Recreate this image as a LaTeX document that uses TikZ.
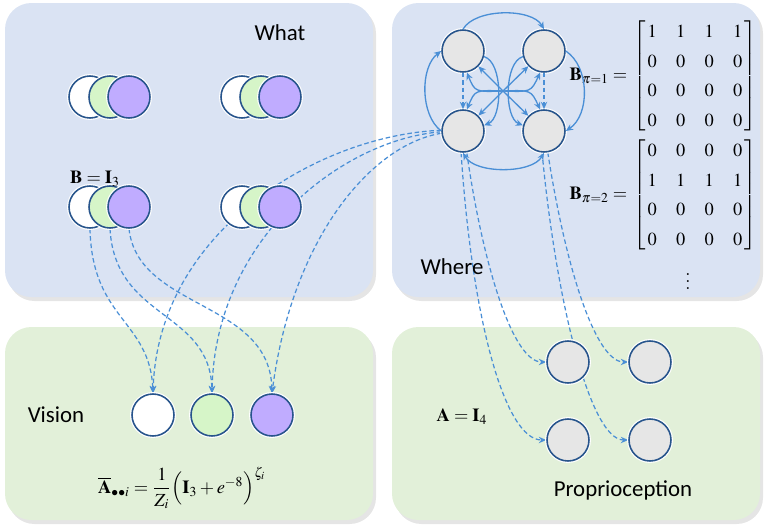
\documentclass[tikz,border=0pt]{standalone}
\usepackage{amsmath}
\usepackage[no-math]{fontspec}
\usepackage{mathptmx}
\renewcommand{\rmdefault}{lmr}
\newfontfamily\calibri{Carlito}
\usetikzlibrary{arrows.meta, positioning}

\definecolor{panelblue}{RGB}{218, 227, 243}
\definecolor{panelgreen}{RGB}{226, 240, 217}
\definecolor{rimblue}{RGB}{40, 85, 140}
\definecolor{linkblue}{RGB}{74, 143, 214}
\definecolor{leafgreen}{RGB}{214, 245, 200}
\definecolor{lilac}{RGB}{192, 172, 255}
\definecolor{stategray}{RGB}{230, 230, 230}

\pgfdeclarelayer{back}
\pgfdeclarelayer{links}
\pgfsetlayers{back,links,main}

\newcommand{\transmat}[1]{\delimiterfactor=860 \delimitershortfall=10pt
  \renewcommand{\arraystretch}{1.36}\setlength{\arraycolsep}{5.5pt}%
  $\left[\begin{array}{@{\,}cccc@{\,}}#1\end{array}\right]$}

\tikzset{
  panelbox/.style={rounded corners=15pt},
  unitc/.style={circle, draw=rimblue, line width=0.9pt, minimum size=0.84cm, inner sep=0pt,
    preaction={draw=white, line width=2.2pt}},
  statec/.style={unitc, fill=stategray},
  paneltext/.style={font=\calibri\fontsize{13}{15}\selectfont},
  mathtext/.style={font=\fontsize{10.5}{12.5}\selectfont, inner sep=1pt},
  linkdash/.style={draw=linkblue, line width=0.7pt, dash pattern=on 2.6pt off 1.6pt,
    -{Stealth[length=4.2pt, width=3.6pt]}},
  flowarrow/.style={draw=linkblue, line width=0.75pt, -{Stealth[length=4.2pt, width=3.6pt]}},
}

\begin{document}
\begin{tikzpicture}[x=0.02cm, y=-0.02cm]
  \useasboundingbox (0,0) rectangle (765,528);

  % Panels with a soft shadow
  \begin{pgfonlayer}{back}
    \fill[black!10, panelbox] (8,7) rectangle (376,301);
    \fill[black!10, panelbox] (395,7) rectangle (763,301);
    \fill[black!10, panelbox] (8,331) rectangle (376,524);
    \fill[black!10, panelbox] (395,331) rectangle (763,524);
    \fill[panelblue, panelbox] (5,3) rectangle (373,297);
    \fill[panelblue, panelbox] (392,3) rectangle (760,297);
    \fill[panelgreen, panelbox] (5,327) rectangle (373,520);
    \fill[panelgreen, panelbox] (392,327) rectangle (760,520);
  \end{pgfonlayer}

  % What
  \node[paneltext] (what) at (280,33) {What};
  \node[unitc, fill=white] (wh1) at (90,97) {};
  \node[unitc, fill=leafgreen] (gn1) at (110,97) {};
  \node[unitc, fill=lilac] (vi1) at (129,97) {};
  \node[unitc, fill=white] (wh2) at (242,97) {};
  \node[unitc, fill=leafgreen] (gn2) at (261,97) {};
  \node[unitc, fill=lilac] (vi2) at (280,97) {};
  \node[unitc, fill=white] (wh3) at (90,207) {};
  \node[unitc, fill=leafgreen] (gn3) at (110,207) {};
  \node[unitc, fill=lilac] (vi3) at (129,207) {};
  \node[unitc, fill=white] (wh4) at (242,207) {};
  \node[unitc, fill=leafgreen] (gn4) at (261,207) {};
  \node[unitc, fill=lilac] (vi4) at (280,207) {};
  \node[mathtext] (bwhat) at (95,179) {$\mathbf{B}=\mathbf{I}_3$};

  % Where
  \node[paneltext] (where) at (452,267) {Where};
  \node[statec] (s1) at (463,51) {};
  \node[statec] (s2) at (544,51) {};
  \node[statec] (s3) at (463,131) {};
  \node[statec] (s4) at (544,131) {};
  \coordinate (hub) at (503,91);

  \node[mathtext] (m1) at (695,76) {\transmat{1&1&1&1\\0&0&0&0\\0&0&0&0\\0&0&0&0}};
  \node[mathtext] (m2) at (695,195) {\transmat{0&0&0&0\\1&1&1&1\\0&0&0&0\\0&0&0&0}};
  \node[mathtext, left=1pt of m1] (b1) {$\mathbf{B}_{\pi=1}=$};
  \node[mathtext, left=1pt of m2] (b2) {$\mathbf{B}_{\pi=2}=$};
  \node[mathtext] (more) at (688,276) {$\vdots$};

  \draw[flowarrow] (s1.north) .. controls (475,8) and (532,8) .. (s2.north);
  \draw[flowarrow] (s3.west) .. controls (420,115) and (420,67) .. (s1.west);
  \draw[flowarrow] (s2.east) .. controls (590,67) and (590,115) .. (s4.east);
  \draw[flowarrow, {Stealth[length=4.2pt, width=3.6pt]}-{Stealth[length=4.2pt, width=3.6pt]}]
    (s3.south) .. controls (475,174) and (532,174) .. (s4.south);
  \draw[flowarrow] (hub) -- (s1);
  \draw[flowarrow] (hub) -- (s2);
  \draw[flowarrow] (hub) -- (s3);
  \draw[flowarrow] (hub) -- (s4);
  \draw[flowarrow] (hub) .. controls (475,92) .. (s1.-80);
  \draw[flowarrow] (hub) .. controls (531,92) .. (s2.-100);
  \draw[flowarrow] (hub) .. controls (475,90) .. (s3.80);
  \draw[flowarrow] (hub) .. controls (531,90) .. (s4.100);
  \draw[flowarrow] (s1.-15) .. controls (503,62) and (503,118) .. (s3.15);
  \draw[flowarrow] (s2.195) .. controls (504,62) and (504,118) .. (s4.165);
  \draw[linkdash] (s1) -- (s3);
  \draw[linkdash] (s2) -- (s4);

  % Vision
  \node[paneltext] (vision) at (56,415) {Vision};
  \node[unitc, fill=white] (vwh) at (153,415) {};
  \node[unitc, fill=leafgreen] (vgn) at (212,415) {};
  \node[unitc, fill=lilac] (vvi) at (272,415) {};
  \node[mathtext] (avision) at (182,488)
    {$\overline{\mathbf{A}}_{\bullet\bullet i}=\dfrac{1}{Z_i}\Bigl(\mathbf{I}_3+e^{-8}\Bigr)^{\zeta_i}$};

  % Proprioception
  \node[paneltext] (proprio) at (623,490) {Proprioception};
  \node[mathtext] (aprop) at (462,417) {$\mathbf{A}=\mathbf{I}_4$};
  \node[statec] (p1) at (568,362) {};
  \node[statec] (p2) at (650,362) {};
  \node[statec] (p3) at (568,440) {};
  \node[statec] (p4) at (650,440) {};

  % Dashed links, behind the circles
  \begin{pgfonlayer}{links}
    \draw[linkdash] (wh3.south) .. controls (92,320) and (150,320) .. (vwh.north);
    \draw[linkdash] (gn3.south) .. controls (115,320) and (210,310) .. (vgn.north);
    \draw[linkdash] (vi3.south) .. controls (138,310) and (270,300) .. (vvi.north);
    \draw[linkdash] (s3.178) .. controls (320,135) and (158,230) .. (vwh.north);
    \draw[linkdash] (s3.182) .. controls (340,140) and (215,240) .. (vgn.north);
    \draw[linkdash] (s3.186) .. controls (370,145) and (292,240) .. (vvi.north);
    \draw[linkdash] (s3.-95) .. controls (472,320) and (505,440) .. (p3.west);
    \draw[linkdash] (s3.-80) .. controls (482,260) and (512,362) .. (p1.west);
    \draw[linkdash] (s4.-95) .. controls (556,300) and (590,440) .. (p4.west);
    \draw[linkdash] (s4.-80) .. controls (566,270) and (596,362) .. (p2.west);
  \end{pgfonlayer}
\end{tikzpicture}
\end{document}
